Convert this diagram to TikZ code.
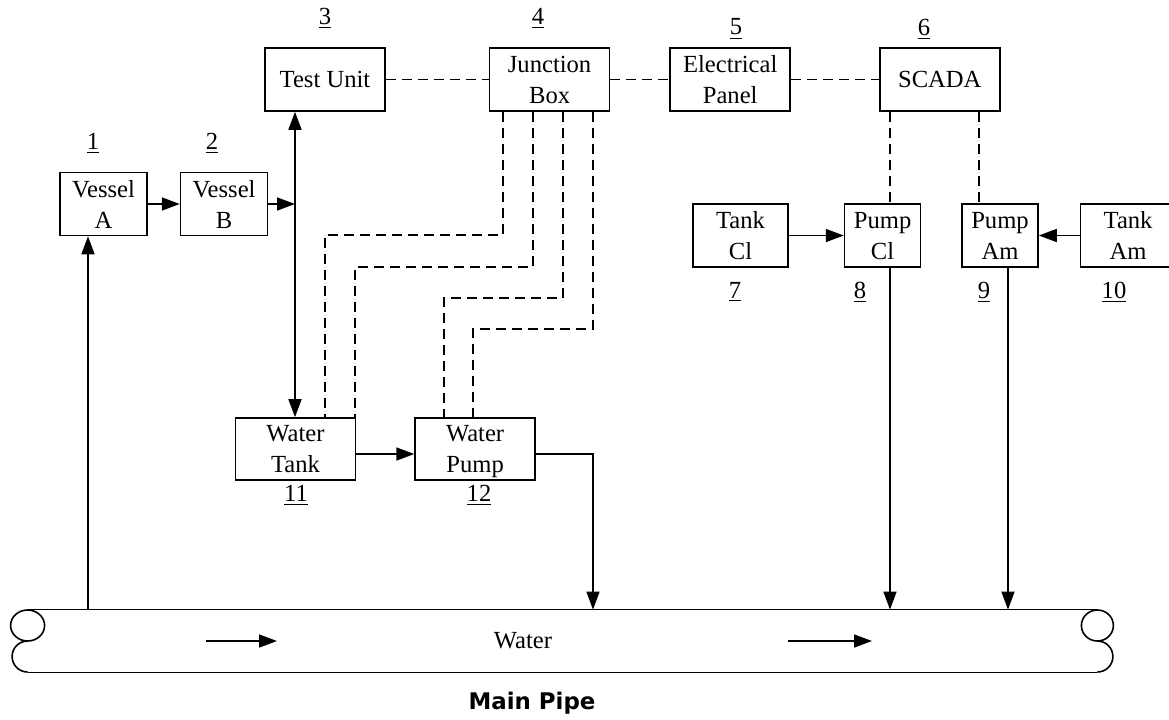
\documentclass[tikz,border=0pt]{standalone}
\usepackage{fontspec}
\setmainfont{Liberation Serif}
\newfontfamily\captionfont{DejaVu Sans}
\usetikzlibrary{arrows.meta, positioning}

\begin{document}
\begin{tikzpicture}[
    x=0.5pt, y=-0.5pt,
    % Style for the unit boxes
    unit/.style = {
        rectangle, draw, line width=0.8pt, inner sep=0pt,
        minimum height=31.5pt, align=center, text depth=0pt,
        font=\fontsize{12.3}{15.5}\selectfont
    },
    % Box widths
    small/.style = {unit, minimum width=43.5pt},
    wide/.style = {unit, minimum width=60pt},
    slim/.style = {unit, minimum width=38pt},
    mid/.style = {unit, minimum width=47.5pt},
    % Style for the underlined unit numbers
    tag/.style = {inner sep=0pt, font=\fontsize{12.3}{15.5}\selectfont},
    flow/.style = {-{Triangle[length=9pt,width=6.5pt]}, line width=0.8pt},
    twoway/.style = {{Triangle[length=9pt,width=6.5pt]}-{Triangle[length=9pt,width=6.5pt]}, line width=0.8pt},
    sig/.style = {line width=0.8pt, dash pattern=on 5pt off 3pt},
    pipeline/.style = {line width=0.8pt},
]
\useasboundingbox (0,0) rectangle (1169,719);

% --- 1. UNITS ---

% top row
\node[wide] (test) at (325,79.5) {Test Unit};
\node[wide, right=51.5pt of test] (jbox) {Junction\\Box};
\node[wide, right=29.5pt of jbox] (panel) {Electrical\\Panel};
\node[wide, right=44pt of panel] (scada) {SCADA};

% vessels
\node[small] (vesA) at (103.5,204) {Vessel\\A};
\node[small, right=16pt of vesA] (vesB) {Vessel\\B};

% dosing units
\node[mid] (tankcl) at (740.5,235.5) {Tank\\Cl};
\node[slim, right=27.5pt of tankcl] (pumpcl) {Pump\\Cl};
\node[slim] (pumpam) at (1000,235.5) {Pump\\Am};
\node[mid, right=20.5pt of pumpam] (tankam) {Tank\\Am};

% water supply
\node[wide, minimum height=31pt] (wtank) at (295.5,449) {Water\\Tank};
\node[wide, minimum height=31pt, right=29pt of wtank] (wpump) {Water\\Pump};

% numbers
\node[tag] (n1) at (93,143) {\underline{1}};
\node[tag] (n2) at (212,143) {\underline{2}};
\node[tag] (n3) at (325,18) {\underline{3}};
\node[tag] (n4) at (538,18) {\underline{4}};
\node[tag] (n5) at (736,29) {\underline{5}};
\node[tag] (n6) at (924,29) {\underline{6}};
\node[tag] (n7) at (735,292) {\underline{7}};
\node[tag] (n8) at (860,292) {\underline{8}};
\node[tag] (n9) at (984,292) {\underline{9}};
\node[tag] (n10) at (1114,292) {\underline{10}};
\node[tag] (n11) at (296,495) {\underline{11}};
\node[tag] (n12) at (479,495) {\underline{12}};

% --- 2. MAIN PIPE ---
\node[minimum width=534.5pt, minimum height=31pt, inner sep=0pt] (pipe) at (562.5,641) {};
\draw[pipeline] (pipe.north west) -- (pipe.north east);
\draw[pipeline] (pipe.south west) -- (pipe.south east);
\draw[pipeline] ([yshift=7.75pt]pipe.west) circle[x radius=17, y radius=15.5];
\draw[pipeline] (pipe.west) arc[start angle=270, end angle=90, radius=15.5];
\draw[pipeline] ([yshift=7.75pt]pipe.east) circle[x radius=16, y radius=15.5];
\draw[pipeline] (pipe.east) arc[start angle=-90, end angle=90, radius=15.5];
\draw[flow] (206,641) -- (277,641);
\draw[flow] (788,641) -- (872,641);
\node[tag] (water) at (523,641) {Water};
\node[inner sep=0pt, font=\captionfont\bfseries\fontsize{11.45}{14}\selectfont] (caption) at (532,703) {Main Pipe};

% --- 3. CONNECTORS ---
\coordinate (feed) at (88,0);
\coordinate (tap) at (295,0);
\coordinate (outlet) at (593,454);
\coordinate (flowy) at (0,454);
\coordinate (cl) at (890,0);
\coordinate (am) at (979,0);
\coordinate (amdose) at (1008,0);

\draw[flow] (feed |- pipe.north) -- (feed |- vesA.south);
\draw[flow] (vesA) -- (vesB);
\draw[flow] (vesB) -- (vesB -| tap);
\draw[twoway] (test.south -| tap) -- (wtank.north -| tap);
\draw[flow] (wtank.east |- flowy) -- (wpump.west |- flowy);
\draw[flow] (wpump.east |- flowy) -- (outlet) -- (outlet |- pipe.north);

\draw[flow] (tankcl) -- (pumpcl);
\draw[flow] (tankam) -- (pumpam);
\draw[flow] (pumpcl.south -| cl) -- (pipe.north -| cl);
\draw[flow] (pumpam.south -| amdose) -- (pipe.north -| amdose);

% signal lines
\draw[sig] (test) -- (jbox);
\draw[sig] (jbox) -- (panel);
\draw[sig] (panel) -- (scada);
\draw[sig] (scada.south -| cl) -- (pumpcl.north -| cl);
\draw[sig] (scada.south -| am) -- (pumpam.north -| am);

\foreach \jx/\ly/\tx/\dest [count=\i] in {503/235/325/wtank, 533/267/355/wtank,
                                          563/298/444/wpump, 593/329/473/wpump} {
    \coordinate (jb\i) at (\jx,\ly);
    \coordinate (dn\i) at (\tx,\ly);
    \draw[sig] (jbox.south -| jb\i) -- (jb\i) -- (dn\i) -- (\dest.north -| dn\i);
}

\end{tikzpicture}
\end{document}
